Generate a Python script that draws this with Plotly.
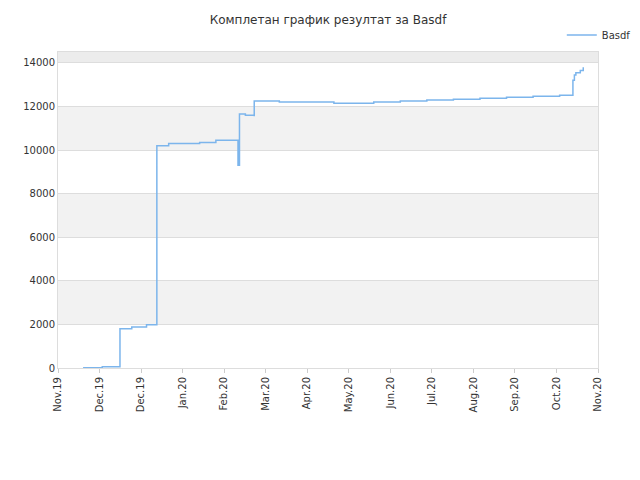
import plotly.graph_objects as go

# days since 2019-11-01 and score values
days = [17, 30, 42, 42, 50, 60, 67, 67, 75, 96, 107, 122, 122, 123, 127, 133, 133, 150,
        187, 214, 232, 250, 268, 286, 304, 322, 340, 349, 350, 351, 354, 356]
scores = [10, 60, 700, 1800, 1880, 1980, 2100, 10200, 10300, 10350, 10450, 10450, 9300,
          11650, 11600, 11550, 12250, 12200, 12150, 12200, 12250, 12300, 12330, 12380,
          12420, 12470, 12520, 13200, 13450, 13550, 13650, 13800]
tick_text = ["Nov.19", "Dec.19", "Dec.19", "Jan.20", "Feb.20", "Mar.20", "Apr.20",
             "May.20", "Jun.20", "Jul.20", "Aug.20", "Sep.20", "Oct.20", "Nov.20"]

x_max = 366
fig = go.Figure()
fig.add_trace(go.Scatter(x=days, y=scores, mode="lines", line_shape="hv", name="Basdf",
                         line=dict(color="#7cb5ec", width=1.5)))

# alternating bands
for lo, hi, c in [(2000, 4000, "#f2f2f2"), (6000, 8000, "#f2f2f2"),
                  (10000, 12000, "#f2f2f2"), (14000, 14500, "#ececec")]:
    fig.add_hrect(y0=lo, y1=hi, fillcolor=c, line_width=0, layer="below")

fig.update_layout(
    width=640, height=480,
    paper_bgcolor="white", plot_bgcolor="white",
    margin=dict(l=50, r=40, t=40, b=120),
    title=dict(text="Комплетан график резултат за Basdf", x=0.5, y=0.985,
               font=dict(family="DejaVu Sans", size=12, color="#333")),
    font=dict(family="DejaVu Sans", size=10, color="#333"),
    showlegend=True,
    legend=dict(x=1.07, y=1.1, xanchor="right", yanchor="top", font=dict(size=10)),
    xaxis=dict(range=[0, x_max], tickvals=[i * x_max / 13 for i in range(14)],
               ticktext=tick_text, tickangle=-90, showgrid=False, showline=True,
               linecolor="#ddd", mirror=True, zeroline=False, ticks="outside",
               ticklen=4, tickcolor="#ccc", automargin=False),
    yaxis=dict(range=[0, 14500], tickvals=list(range(0, 14001, 2000)), tickformat="d",
               showgrid=True, gridcolor="#ddd", showline=True, linecolor="#ddd",
               mirror=True, zeroline=False, automargin=False),
)
fig.write_html("out.html")
